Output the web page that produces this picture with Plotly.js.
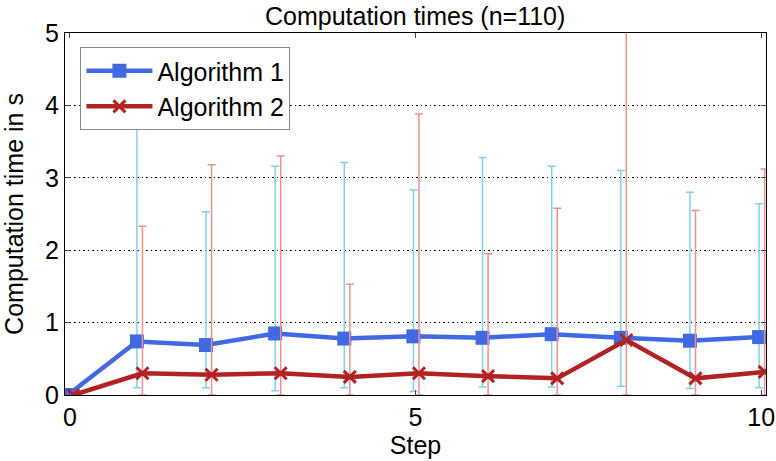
<!DOCTYPE html>
<html>
<head>
<meta charset="utf-8">
<script src="https://cdn.plot.ly/plotly-3.0.1.min.js"></script>
<style>html,body{margin:0;padding:0;background:#fff;}#chart{width:776px;height:461px;}</style>
</head>
<body>
<div id="chart"></div>
<script>
const steps = [0,1,2,3,4,5,6,7,8,9,10];
const alg1Mean = [0,0.74,0.69,0.85,0.78,0.81,0.79,0.84,0.79,0.75,0.80];
const alg1Max  = [0,3.67,2.53,3.16,3.21,2.83,3.28,3.16,3.10,2.80,2.64];
const alg1Min  = [0,0.10,0.10,0.06,0.10,0.05,0.11,0.11,0.12,0.09,0.10];
const alg2Mean = [0,0.30,0.28,0.30,0.25,0.30,0.26,0.23,0.76,0.23,0.32];
const alg2Max  = [0,2.33,3.18,3.30,1.53,3.88,1.95,2.58,6.00,2.55,3.12];
const alg2Min  = [0,0.00,0.00,0.00,0.00,0.00,0.00,0.00,0.00,0.00,0.00];

const off1 = -0.03, off2 = 0.05;
const font = 'Liberation Sans, Arial, Helvetica, sans-serif';

const t1 = {
  x: steps.map(s => s + off1), y: alg1Mean, name: 'Algorithm 1', type: 'scatter', mode: 'lines+markers',
  line: {color: '#4169E1', width: 4.5},
  marker: {symbol: 'square', size: 14, color: '#4169E1'},
  error_y: {type: 'data', symmetric: false,
    array: alg1Max.map((v,i) => v - alg1Mean[i]),
    arrayminus: alg1Mean.map((v,i) => v - alg1Min[i]),
    color: '#87CEEB', thickness: 1.5, width: 4}
};
const t2 = {
  x: steps.map(s => s + off2), y: alg2Mean, name: 'Algorithm 2', type: 'scatter', mode: 'lines+markers',
  line: {color: '#B22222', width: 4.5},
  marker: {symbol: 'x-thin', size: 12, line: {color: '#B22222', width: 3}, color: '#B22222'},
  error_y: {type: 'data', symmetric: false,
    array: alg2Max.map((v,i) => v - alg2Mean[i]),
    arrayminus: alg2Mean.map((v,i) => v - alg2Min[i]),
    color: '#EE9090', thickness: 1.5, width: 4}
};

const layout = {
  width: 776, height: 461,
  margin: {l: 65, r: 10, t: 33, b: 66},
  paper_bgcolor: '#fff', plot_bgcolor: '#fff',
  font: {family: font, size: 25, color: '#000'},
  title: {text: 'Computation times (n=110)', x: 0.535, xanchor: 'center', y: 0.965, yanchor: 'middle', font: {size: 25}},
  showlegend: true,
  legend: {x: 0.022, y: 0.961, xanchor: 'left', yanchor: 'top', bgcolor: '#fff', bordercolor: '#888', borderwidth: 1,
    font: {size: 25}, itemwidth: 66},
  xaxis: {range: [-0.07, 10.07], tickvals: [0,5,10], ticktext: ['0','5','10'], ticks: 'inside', ticklen: 5,
    showline: true, linecolor: '#000', linewidth: 1, mirror: 'ticks', showgrid: false, zeroline: false,
    title: {text: 'Step', standoff: 3, font: {size: 25}}, tickfont: {size: 25}},
  yaxis: {range: [0, 5], tickvals: [0,1,2,3,4,5], ticks: 'inside', ticklen: 5,
    showline: true, linecolor: '#000', linewidth: 1, mirror: 'ticks', showgrid: true, gridcolor: '#000', griddash: '1.5px,3px', gridwidth: 1,
    zeroline: false, title: {text: 'Computation time in s', standoff: 18, font: {size: 25}}, tickfont: {size: 25}}
};

Plotly.newPlot('chart', [t1, t2], layout, {displayModeBar: false, staticPlot: true});
</script>
</body>
</html>
